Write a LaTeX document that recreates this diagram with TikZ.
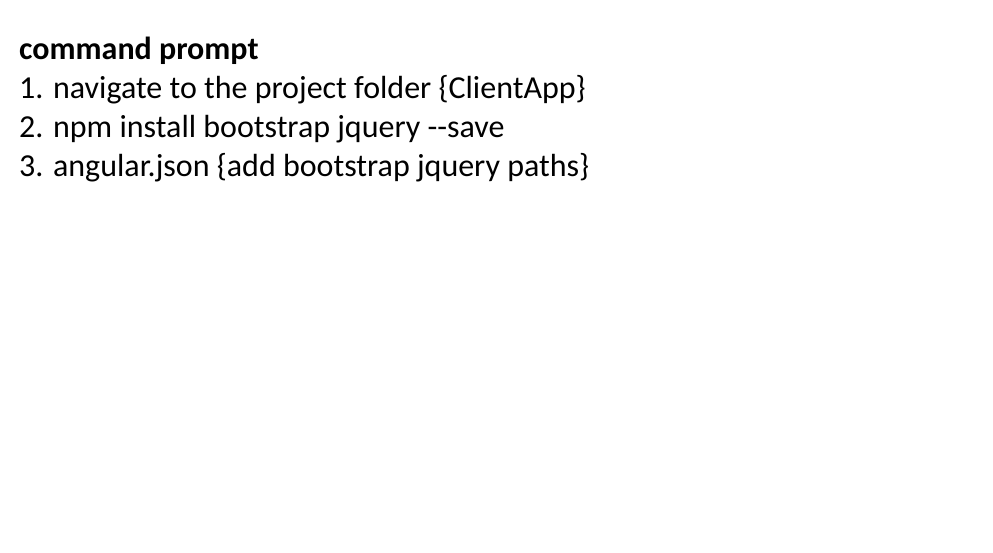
\documentclass[tikz,border=0pt]{standalone}
\usepackage{fontspec}
\setmainfont{Carlito}
\usepackage{tikz}
\usetikzlibrary{positioning}
\tikzset{txt/.style={inner sep=0pt,anchor=base west,font=\fontsize{32}{38}\selectfont},
	 ttl/.style={txt,font=\fontsize{32}{38}\selectfont\bfseries},
	 node distance = 39pt
	 }
\begin{document}
\begin{tikzpicture}[x=1pt,y=1pt] % command prompt steps
	\useasboundingbox[fill=white] (0,0) rectangle (993,-553);
	\node[ttl] (title) at (19,-59.5) {command prompt};
	\node[txt] (s1) [below= of title.base west,anchor=base west] {1. navigate to the project folder \{ClientApp\}};
	\node[txt] (s2) [below= of s1.base west,anchor=base west] {2. npm install bootstrap jquery -{}-save};
	\node[txt] (s3) [below= of s2.base west,anchor=base west] {3. angular.json \{add bootstrap jquery paths\}};
     \end{tikzpicture}
\end{document}
